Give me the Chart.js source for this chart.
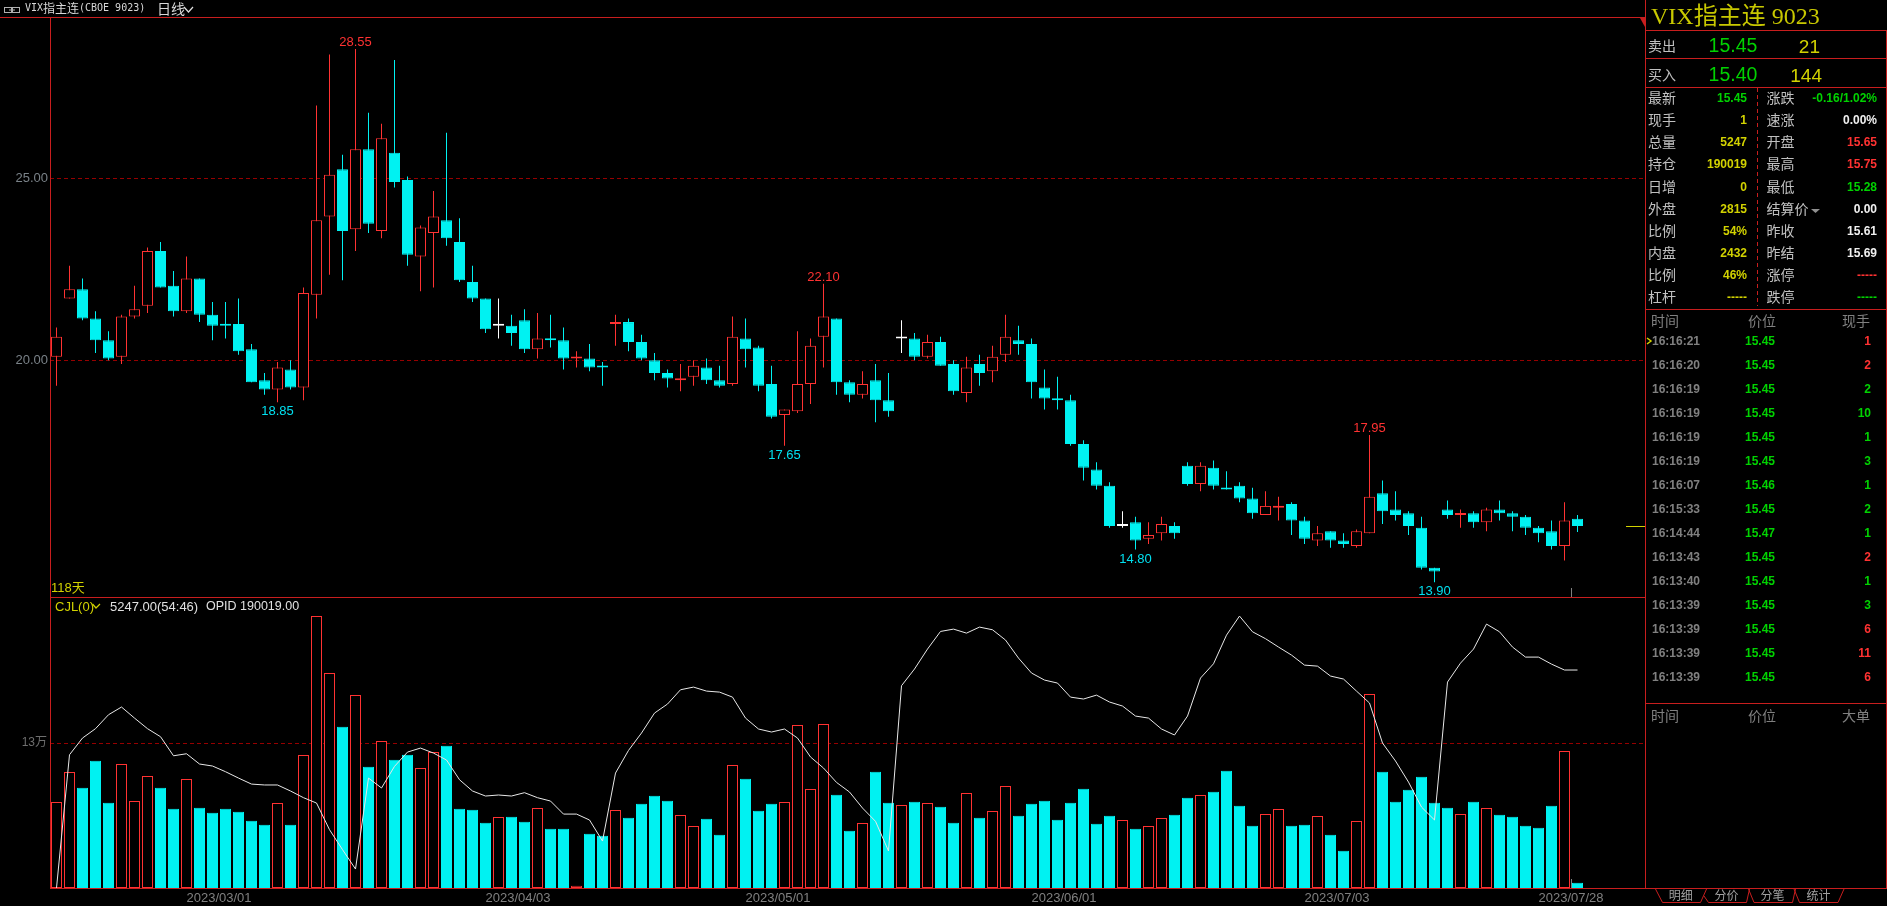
<!DOCTYPE html>
<html>
<head>
<meta charset="utf-8">
<title>VIX指主连</title>
<script src="https://cdn.jsdelivr.net/npm/chart.js@4/dist/chart.umd.min.js"></script>
<style>
html, body { margin: 0; padding: 0; background: #000; width: 1887px; height: 906px; overflow: hidden; }
canvas { position: absolute; left: 0; }
.t { position: absolute; white-space: nowrap; line-height: 1; font-family: "Liberation Sans", "Noto Sans CJK SC", sans-serif; }
.l { position: absolute; background: #c81e1e; }
svg { position: absolute; left: 0; top: 0; pointer-events: none; }
</style>
</head>
<body>
<canvas id="price" width="1646" height="580" style="top:17px;width:1646px;height:580px"></canvas>
<canvas id="volume" width="1646" height="309" style="top:597px;width:1646px;height:309px"></canvas>
<svg id="shapes" width="1887" height="906"></svg>
<div id="overlay"></div>
<script>
const opens = [20.10,21.70,21.95,21.15,20.55,20.10,21.20,21.50,23.00,22.05,21.35,22.25,21.25,21.00,21.00,20.30,19.45,19.20,19.75,19.25,
  21.80,23.95,25.25,23.60,25.80,23.55,25.70,24.95,22.85,23.50,23.85,23.25,22.15,21.70,20.95,20.95,21.10,20.30,20.60,20.55,
  20.05,20.05,19.85,21.00,21.05,20.50,20.00,19.65,19.45,19.55,19.80,19.45,19.35,20.60,20.35,19.35,18.50,18.60,19.35,20.65,
  21.15,19.40,19.05,19.45,18.90,20.60,20.60,20.10,20.50,19.90,19.10,19.90,19.70,20.15,20.55,20.45,19.25,18.95,18.90,17.70,
  17.00,16.55,15.45,15.55,15.10,15.25,15.45,17.10,16.60,17.05,16.50,16.55,16.20,15.75,15.95,16.05,15.60,15.05,15.30,15.05,
  14.90,15.25,16.35,15.90,15.80,15.40,14.30,15.90,15.75,15.80,15.55,15.90,15.80,15.70,15.40,15.30,14.90,15.65];
const highs = [20.90,22.60,22.25,21.35,20.80,21.25,22.05,23.10,23.25,22.45,22.85,22.25,21.60,21.60,21.70,20.45,19.65,19.95,20.00,22.00,
  27.00,28.40,25.65,28.55,26.80,26.50,28.25,25.05,23.70,24.65,26.25,23.90,22.60,21.70,21.70,21.25,21.40,21.30,21.25,20.90,
  20.25,20.45,19.95,21.25,21.15,20.70,20.20,19.75,19.90,20.00,20.05,19.85,21.20,21.15,20.40,19.85,18.65,20.80,20.60,22.10,
  21.15,19.45,19.70,19.90,19.65,21.10,20.75,20.70,20.65,20.00,20.10,20.15,20.40,21.25,20.95,20.60,19.75,19.55,19.05,17.80,
  17.20,16.65,15.85,15.70,15.55,15.70,15.55,17.20,17.20,17.25,16.95,16.65,16.50,16.40,16.25,16.10,15.70,15.45,15.30,15.25,
  15.35,17.95,16.70,16.40,15.85,15.70,14.30,16.15,15.90,15.85,15.95,16.15,15.85,15.75,15.45,15.60,16.10,15.75];
const lows = [19.30,21.70,21.10,20.20,20.00,19.90,21.15,21.30,22.00,21.20,21.30,21.05,20.55,20.60,20.15,19.40,19.05,18.85,19.20,18.90,
  21.15,22.35,22.20,23.00,23.50,23.35,24.75,22.60,21.90,22.00,23.15,22.15,21.60,20.75,20.60,20.40,20.20,20.05,20.35,19.75,
  19.80,19.70,19.30,20.40,20.25,20.00,19.45,19.25,19.15,19.30,19.35,19.25,19.30,19.80,19.15,18.40,17.65,18.55,18.80,19.80,
  19.05,18.85,18.95,18.30,18.45,20.20,20.00,20.05,19.85,19.05,18.85,19.30,19.40,19.95,20.15,18.95,18.65,18.65,17.65,16.70,
  16.45,15.40,15.40,14.80,14.95,15.05,15.10,16.55,16.40,16.45,16.45,16.10,15.65,15.75,15.60,15.20,14.95,14.90,14.85,14.85,
  14.85,15.25,15.50,15.60,15.20,14.25,13.90,15.65,15.40,15.40,15.30,15.60,15.30,15.20,15.00,14.80,14.50,15.28];
const closes = [20.65,21.95,21.15,20.55,20.05,21.20,21.40,23.00,22.00,21.35,22.25,21.25,20.95,20.95,20.25,19.40,19.20,19.80,19.25,21.85,
  23.85,25.10,23.55,25.80,23.75,26.10,24.90,22.90,23.65,23.95,23.35,22.20,21.70,20.85,20.95,20.75,20.30,20.60,20.55,20.05,
  20.10,19.80,19.80,21.05,20.50,20.05,19.65,19.50,19.50,19.85,19.45,19.30,20.65,20.30,19.30,18.45,18.65,19.35,20.40,21.20,
  19.40,19.05,19.35,18.90,18.60,20.60,20.10,20.50,19.85,19.15,19.80,19.65,20.10,20.65,20.45,19.40,18.95,18.90,17.70,17.05,
  16.55,15.45,15.45,15.05,15.20,15.50,15.25,16.60,17.10,16.55,16.45,16.20,15.80,16.00,16.00,15.60,15.10,15.25,15.05,14.95,
  15.30,16.25,15.85,15.75,15.45,14.30,14.20,15.75,15.80,15.55,15.90,15.80,15.70,15.40,15.25,14.90,15.60,15.45];
// volume and open interest, in units of 万
const volumes = [7.71,10.40,9.00,11.42,7.65,11.12,7.80,10.04,9.00,7.11,9.77,7.20,6.75,7.11,6.84,6.04,5.68,7.62,5.68,11.92,
  24.39,19.28,14.47,17.30,10.88,13.18,11.51,11.95,10.76,12.19,12.76,7.11,7.02,5.86,6.37,6.40,5.95,7.17,5.32,5.32,
  0.21,4.87,4.69,6.99,6.31,7.56,8.28,7.83,6.55,5.56,6.22,4.78,11.03,9.80,6.93,7.56,7.71,14.61,8.88,14.70,
  8.37,5.14,5.83,10.43,7.65,7.44,7.74,7.62,7.29,5.86,8.52,6.31,6.90,9.15,6.49,7.56,7.83,6.13,7.65,8.91,
  5.77,6.49,6.10,5.32,5.56,6.28,6.57,8.10,8.34,8.64,10.52,7.38,5.59,6.63,7.08,5.59,5.68,6.46,4.78,3.35,
  6.01,17.39,10.43,7.74,8.82,9.98,7.65,7.20,6.63,7.74,7.17,6.57,6.40,5.59,5.41,7.38,12.28,0.48];
const openInterest = [0,11.95,13.45,14.29,15.54,16.23,15.24,14.29,13.57,11.86,12.04,11.12,10.94,10.43,9.86,9.32,9.24,9.24,8.70,8.10,
  7.62,5.23,3.44,1.70,9.86,8.97,10.91,12.19,12.55,12.10,11.48,9.71,8.70,8.25,8.34,8.25,8.55,8.10,7.80,6.63,
  6.63,6.10,4.21,10.31,12.34,13.90,15.69,16.50,17.78,18.02,17.66,17.57,17.12,15.24,14.26,13.99,14.26,13.45,11.75,10.76,
  9.47,8.61,7.17,5.98,3.32,18.14,19.64,21.43,23.01,23.22,22.86,23.40,23.16,22.24,20.62,19.28,18.65,18.38,17.12,16.95,
  17.30,16.68,16.32,15.42,15.24,14.26,13.72,15.42,18.83,20.11,22.68,24.39,22.98,22.36,21.61,20.89,19.99,19.90,19.01,18.74,
  17.66,16.59,13.00,11.39,9.50,7.26,6.10,18.47,20.17,21.43,23.67,22.98,21.61,20.71,20.71,20.08,19.55,19.55];

const priceTicks = [25, 20];
const volumeTicks = [13];
const dateLabels = ['2023/03/01', '2023/04/03', '2023/05/01', '2023/06/01', '2023/07/03', '2023/07/28'];
const dateSlots = [12.5, 35.5, 55.5, 77.5, 98.5, 116.5];
const highMarks = [23, 59, 101];
const lowMarks = [17, 56, 83, 106];
const cursorSlot = 116.5;

const leftQuoteNames = ['最新', '现手', '总量', '持仓', '日增', '外盘', '比例', '内盘', '比例', '杠杆'];
const leftQuoteValues = ['15.45', '1', '5247', '190019', '0', '2815', '54%', '2432', '46%', '-----'];
const rightQuoteNames = ['涨跌', '速涨', '开盘', '最高', '最低', '结算价', '昨收', '昨结', '涨停', '跌停'];
const rightQuoteValues = ['-0.16/1.02%', '0.00%', '15.65', '15.75', '15.28', '0.00', '15.61', '15.69', '-----', '-----'];
const tradeTimes = ['16:16:21', '16:16:20', '16:16:19', '16:16:19', '16:16:19', '16:16:19', '16:16:07', '16:15:33', '16:14:44', '16:13:43', '16:13:40', '16:13:39', '16:13:39', '16:13:39', '16:13:39'];
const tradePrices = ['15.45', '15.45', '15.45', '15.45', '15.45', '15.45', '15.46', '15.45', '15.47', '15.45', '15.45', '15.45', '15.45', '15.45', '15.45'];
const tradeSizes = ['1', '2', '2', '10', '1', '3', '1', '2', '1', '2', '1', '3', '6', '11', '6'];
const tradeSides = ['r', 'r', 'g', 'g', 'g', 'g', 'g', 'g', 'g', 'r', 'g', 'g', 'r', 'r', 'r'];
const tabNames = ['明细', '分价', '分笔', '统计'];

const RED = '#ff3232', CYAN = '#00f2f2', GREEN = '#00d200', YELLOW = '#d2d200', WHITE = '#f0f0f0';
const FRAME = '#c81e1e', GRID = '#960000', DIM = '#808080';
const FONT = '"Liberation Sans", "Noto Sans CJK SC", sans-serif';

const candleColor = opens.map((o, i) => closes[i] > o ? RED : closes[i] < o ? CYAN : '#ffffff');
const isFalling = opens.map((o, i) => closes[i] < o);

const setY = (ticks) => (scale) => { scale.ticks = ticks.map((value) => ({ value })); };
// the plot area has to fill the canvas, so drop the room kept for half a tick label
const fixWidth = (scale) => {
  scale.width = 50;
  scale.paddingTop = 0;
  scale.paddingBottom = 0;
};
const xRange = { type: 'linear', offset: false, min: -0.5, max: 122.269 };

// labels over the highs and under the lows, last price mark, cursor stub
const markers = {
  id: 'markers',
  afterDatasetsDraw(chart) {
    const { ctx, scales: { x, y } } = chart;
    ctx.save();
    ctx.font = '13px ' + FONT;
    ctx.textAlign = 'center';
    ctx.fillStyle = RED;
    ctx.textBaseline = 'bottom';
    highMarks.forEach((i) => ctx.fillText(highs[i].toFixed(2), x.getPixelForValue(i), y.getPixelForValue(highs[i])));
    ctx.fillStyle = '#00e0f0';
    ctx.textBaseline = 'top';
    lowMarks.forEach((i) => ctx.fillText(lows[i].toFixed(2), x.getPixelForValue(i), y.getPixelForValue(lows[i]) + 3));
    const py = Math.round(y.getPixelForValue(closes[closes.length - 1])) + 0.5;
    ctx.strokeStyle = YELLOW;
    ctx.beginPath();
    ctx.moveTo(x.right - 20, py);
    ctx.lineTo(x.right, py);
    ctx.stroke();
    const cx = Math.round(x.getPixelForValue(cursorSlot)) + 0.5;
    ctx.strokeStyle = DIM;
    ctx.beginPath();
    ctx.moveTo(cx, y.bottom - 9);
    ctx.lineTo(cx, y.bottom);
    ctx.stroke();
    ctx.restore();
  },
};

const volumeCursor = {
  id: 'volumeCursor',
  afterDatasetsDraw(chart) {
    const { ctx, scales: { x, y } } = chart;
    const cx = Math.round(x.getPixelForValue(cursorSlot)) + 0.5;
    ctx.save();
    ctx.strokeStyle = DIM;
    ctx.beginPath();
    ctx.moveTo(cx, y.bottom - 9);
    ctx.lineTo(cx, y.bottom);
    ctx.stroke();
    ctx.restore();
  },
};

new Chart(document.getElementById('price'), {
  type: 'bar',
  data: {
    datasets: [
      {
        data: opens.map((o, i) => ({ x: i, y: [o, closes[i]] })),
        backgroundColor: opens.map((o, i) => isFalling[i] ? CYAN : '#000000'),
        borderColor: candleColor,
        borderWidth: 1,
        borderSkipped: false,
        inflateAmount: 0,
        barThickness: 11,
        minBarLength: 2,
        grouped: false,
        order: 1,
      },
      {
        data: lows.map((l, i) => ({ x: i, y: [l, highs[i]] })),
        backgroundColor: candleColor,
        inflateAmount: 0,
        barThickness: 1,
        grouped: false,
        order: 2,
      },
    ],
  },
  plugins: [markers],
  options: {
    responsive: false,
    animation: false,
    devicePixelRatio: 1,
    layout: { autoPadding: false },
    plugins: { legend: { display: false }, tooltip: { enabled: false } },
    scales: {
      x: { ...xRange, display: false },
      y: {
        min: 13.497,
        max: 29.431,
        afterBuildTicks: setY(priceTicks),
        afterFit: fixWidth,
        grid: { color: GRID, drawTicks: false },
        border: { display: false, dash: [4, 3] },
        ticks: { color: '#7a8288', padding: 2, font: { size: 13, family: FONT }, callback: (v) => v.toFixed(2) },
      },
    },
  },
});

new Chart(document.getElementById('volume'), {
  type: 'bar',
  data: {
    datasets: [
      {
        type: 'line',
        data: openInterest.map((v, i) => ({ x: i, y: v })),
        borderColor: '#e8e8e8',
        borderWidth: 1,
        pointRadius: 0,
        tension: 0,
        order: 0,
      },
      {
        data: volumes.map((v, i) => ({ x: i, y: v })),
        backgroundColor: isFalling.map((f) => f ? CYAN : '#000000'),
        borderColor: isFalling.map((f) => f ? CYAN : RED),
        borderWidth: 1,
        borderSkipped: false,
        inflateAmount: 0,
        barThickness: 11,
        grouped: false,
        order: 1,
      },
    ],
  },
  plugins: [volumeCursor],
  options: {
    responsive: false,
    animation: false,
    devicePixelRatio: 1,
    layout: { autoPadding: false },
    plugins: { legend: { display: false }, tooltip: { enabled: false } },
    scales: {
      x: {
        ...xRange,
        afterBuildTicks: setY(dateSlots),
        afterFit: (scale) => { scale.height = 18; },
        grid: { display: false, drawTicks: false },
        border: { display: false },
        ticks: {
          color: DIM,
          padding: 3,
          autoSkip: false,
          maxRotation: 0,
          font: { size: 13, family: FONT },
          callback: (v, i) => dateLabels[i],
        },
      },
      y: {
        min: 0,
        max: 26.1,
        afterBuildTicks: setY(volumeTicks),
        afterFit: fixWidth,
        grid: { color: GRID, drawTicks: false },
        border: { display: false, dash: [4, 3] },
        ticks: { color: '#6e6e6e', padding: 3, font: { size: 12, family: FONT }, callback: (v) => v + '万' },
      },
    },
  },
});

// everything outside the two plots: frame lines and the quote panel
const overlay = document.getElementById('overlay');
const put = (text, x, y, color, size, opts = {}) => {
  const el = document.createElement('div');
  el.className = 't';
  el.textContent = text;
  el.style.color = color;
  el.style.fontSize = size + 'px';
  el.style.top = y + 'px';
  if (opts.bold) el.style.fontWeight = 'bold';
  if (opts.font) el.style.fontFamily = opts.font;
  if (opts.align === 'right') {
    el.style.right = (1887 - x) + 'px';
    el.style.transform = 'translateY(-50%)';
  } else if (opts.align === 'center') {
    el.style.left = x + 'px';
    el.style.transform = 'translate(-50%,-50%)';
  } else {
    el.style.left = x + 'px';
    el.style.transform = 'translateY(-50%)';
  }
  overlay.appendChild(el);
};
const line = (x, y, w, h) => {
  const el = document.createElement('div');
  el.className = 'l';
  el.style.cssText = `left:${x}px;top:${y}px;width:${w}px;height:${h}px`;
  overlay.appendChild(el);
};

line(0, 17, 1646, 1);
line(50, 17, 1, 872);
line(50, 597, 1596, 1);
line(50, 888, 1596, 1);
line(1645, 0, 1, 889);
line(1886, 30, 1, 859);
line(1646, 30, 241, 1);
line(1646, 58, 241, 1);
line(1646, 87, 241, 1);
line(1646, 309, 241, 1);
line(1646, 703, 241, 1);
line(1646, 888, 241, 1);

const shapes = document.getElementById('shapes');
shapes.innerHTML = `
  <g fill="none" stroke="${FRAME}" stroke-width="1">
    <path d="M1655 888L1662.5 902.5H1700.5L1707 888"/>
    <path d="M1704 896L1708.5 902.5H1746.5L1749.5 889"/>
    <path d="M1748.5 889L1754 902.5H1792.5L1795.5 889"/>
    <path d="M1794 889L1799.5 902.5H1838L1844 889"/>
  </g>
  <path d="M1757.5 88V306" stroke="${FRAME}" stroke-dasharray="4 3" fill="none"/>
  <path d="M1640 18H1645V27Z" fill="${FRAME}"/>
  <g fill="none" stroke="#b0b0b0" stroke-width="1">
    <rect x="4.5" y="7.5" width="7" height="5"/><rect x="12.5" y="7.5" width="7" height="5"/><path d="M9 10H15"/>
  </g>
  <path d="M184 7L188.5 12L193 7" fill="none" stroke="#e0e0e0" stroke-width="1.2"/>
  <path d="M92.5 604L96 608L100 604" fill="none" stroke="${YELLOW}" stroke-width="1.2"/>
  <path d="M1811 209H1820L1815.5 213Z" fill="#909090"/>
  <path d="M1647 338L1651 341L1647 344" fill="none" stroke="${YELLOW}" stroke-width="1.5"/>`;

// header strip
const CJK = '"Noto Sans CJK SC", sans-serif';
const MONO = '"DejaVu Sans Mono", monospace';
put('VIX', 25, 8, '#d8d8d8', 10, { font: MONO });
put('指主连', 43, 8, '#d8d8d8', 12, { font: CJK });
put('(CBOE 9023)', 79, 8, '#d8d8d8', 10, { font: MONO });
put('日线', 157, 8, '#d8d8d8', 14, { font: CJK });
put('118天', 51, 587, YELLOW, 13);
put('CJL(0)', 55, 606, YELLOW, 13);
put('5247.00(54:46)', 110, 606, '#e0e0e0', 13);
put('OPID 190019.00', 206, 606, '#e0e0e0', 12.5);

// quote panel
put('VIX指主连 9023', 1651, 16, '#c8c800', 24, { font: '"Liberation Serif", "Noto Sans CJK SC", serif' });
put('卖出', 1648, 44.5, '#c0c0c0', 14, { font: CJK });
put('15.45', 1733, 46, GREEN, 19.5, { align: 'center' });
put('21', 1820, 46, YELLOW, 19, { align: 'right' });
put('买入', 1648, 73.5, '#c0c0c0', 14, { font: CJK });
put('15.40', 1733, 75, GREEN, 19.5, { align: 'center' });
put('144', 1822, 75, YELLOW, 19, { align: 'right' });

const rightColors = [GREEN, WHITE, RED, RED, GREEN, WHITE, WHITE, WHITE, RED, GREEN];
leftQuoteNames.forEach((name, i) => {
  const y = 98.3 + i * 22.05;
  put(name, 1648, y - 1, '#c0c0c0', 14, { font: CJK });
  put(leftQuoteValues[i], 1747, y, i === 0 ? GREEN : YELLOW, 12, { align: 'right', bold: true });
  put(rightQuoteNames[i], 1766.5, y - 1, '#c0c0c0', 14, { font: CJK });
  put(rightQuoteValues[i], 1877, y, rightColors[i], 12, { align: 'right', bold: true });
});

put('时间', 1651, 320, DIM, 14, { font: CJK });
put('价位', 1762, 320, DIM, 14, { font: CJK, align: 'center' });
put('现手', 1870, 320, DIM, 14, { font: CJK, align: 'right' });
tradeTimes.forEach((time, i) => {
  const y = 341 + i * 24;
  put(time, 1652, y, DIM, 12, { bold: true });
  put(tradePrices[i], 1760, y, GREEN, 12, { bold: true, align: 'center' });
  put(tradeSizes[i], 1871, y, tradeSides[i] === 'r' ? RED : GREEN, 12, { bold: true, align: 'right' });
});

put('时间', 1651, 715, DIM, 14, { font: CJK });
put('价位', 1762, 715, DIM, 14, { font: CJK, align: 'center' });
put('大单', 1870, 715, DIM, 14, { font: CJK, align: 'right' });
tabNames.forEach((name, i) => put(name, 1680.7 + i * 45.9, 895, '#a0a0a0', 12, { font: CJK, align: 'center' }));
</script>
</body>
</html>
